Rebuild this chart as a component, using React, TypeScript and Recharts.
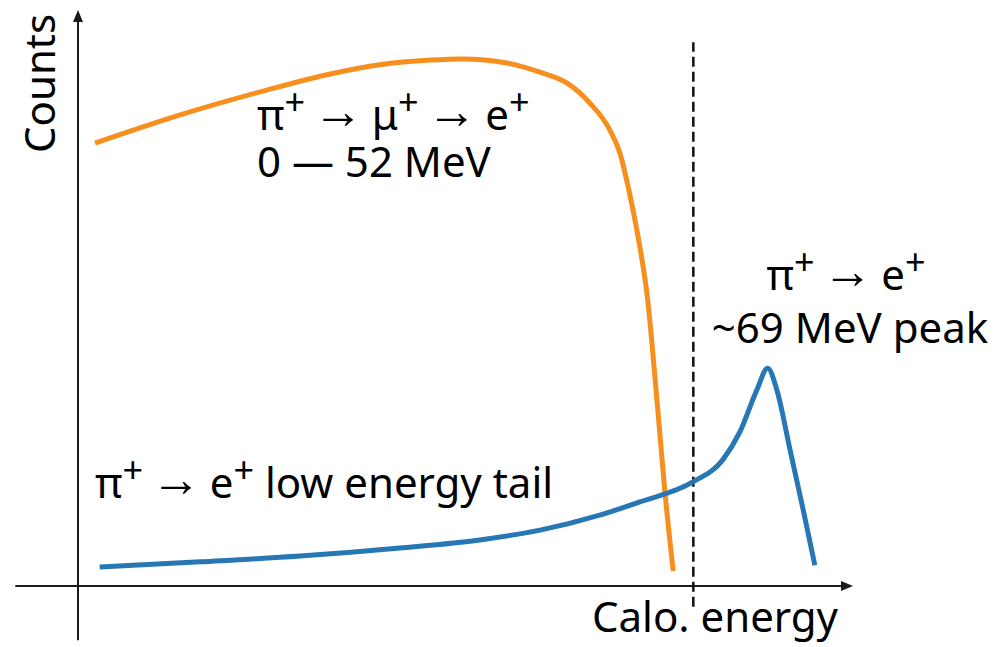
import React from 'react';
import { LineChart, Line, XAxis, YAxis, ReferenceLine, ReferenceDot } from 'recharts';

// schematic calorimeter energy spectrum (arbitrary units, 0-100 on both axes)
const muDecayEnergy = [2.2, 13.2, 24.4, 32.6, 39.0, 45.5, 49.7, 55.4, 59.7, 63.2, 66.1, 68.7, 70.0, 71.3, 72.2, 73.6, 74.8, 75.8, 76.9];
const muDecayCounts = [76.9, 81.8, 86.1, 88.9, 90.5, 91.3, 91.5, 90.8, 89.2, 87.3, 83.9, 79.2, 75.2, 67.9, 61.8, 49.7, 32.3, 16.7, 2.6];

const eDecayEnergy = [2.8, 15.8, 28.7, 41.6, 51.9, 59.7, 67.4, 72.6, 79.5, 83.3, 85.5, 87.7, 89.1, 90.3, 92.0, 93.7, 95.2];
const eDecayCounts = [3.3, 4.2, 5.2, 6.6, 8.0, 9.7, 12.3, 14.6, 18.1, 21.9, 26.7, 34.0, 37.8, 34.0, 23.6, 13.2, 3.6];

const cutEnergy = 79.5;

const ORANGE = '#F78F1E';
const BLUE = '#2777B4';
const AXIS = '#1a1a1a';
const FONT = "'Noto Sans', 'Open Sans', sans-serif";

const muData = muDecayEnergy.map((x, i) => ({ x, y: muDecayCounts[i] }));
const eData = eDecayEnergy.map((x, i) => ({ x, y: eDecayCounts[i] }));

const ArrowRight = (props: any) => {
  const { cx, cy } = props;
  return <polygon points={`${cx + 1},${cy} ${cx - 11},${cy - 5} ${cx - 11},${cy + 5}`} fill={AXIS} />;
};

const ArrowUp = (props: any) => {
  const { cx, cy } = props;
  return <polygon points={`${cx},${cy} ${cx - 5},${cy + 12} ${cx + 5},${cy + 12}`} fill={AXIS} />;
};

// text pieces: [text, baseline offset, font size]
type Part = [string, number, number?];
const SUP: Part = ['+', -15, 36];
const ARR: Part = ['→', -2, 50];
const SP: Part = [' ', 0, 32];

const Rich = ({ x, y, anchor, parts }: { x: number; y: number; anchor?: string; parts: Part[] }) => {
  let prev = 0;
  return (
    <text x={x} y={y} textAnchor={anchor || 'start'} style={{ whiteSpace: 'pre' }}>
      {parts.map(([t, off, size], i) => {
        const dy = off - prev;
        prev = off;
        return (
          <tspan key={i} dy={dy} fontSize={size || 42}>
            {t}
          </tspan>
        );
      })}
    </text>
  );
};

export default function App() {
  return (
    <div style={{ position: 'absolute', left: 0, top: 0, width: 1007, height: 647, background: '#fff' }}>
      <LineChart width={1007} height={647} margin={{ top: 10, right: 155, bottom: 61, left: 78 }}>
        <XAxis type="number" dataKey="x" domain={[0, 100]} allowDataOverflow hide />
        <YAxis type="number" dataKey="y" domain={[0, 100]} allowDataOverflow hide />
        <ReferenceLine segment={[{ x: -8.1, y: 0 }, { x: 99, y: 0 }]} stroke={AXIS} strokeWidth={2} ifOverflow="visible" />
        <ReferenceLine segment={[{ x: 0, y: -9.4 }, { x: 0, y: 98 }]} stroke={AXIS} strokeWidth={2} ifOverflow="visible" />
        <ReferenceDot x={100} y={0} r={1} ifOverflow="visible" shape={ArrowRight} />
        <ReferenceDot x={0} y={100} r={1} ifOverflow="visible" shape={ArrowUp} />
        <ReferenceLine
          segment={[{ x: cutEnergy, y: -3.6 }, { x: cutEnergy, y: 94.4 }]}
          stroke="#111"
          strokeWidth={2.5}
          strokeDasharray="10 5"
          ifOverflow="visible"
        />
        <Line data={muData} dataKey="y" type="monotone" stroke={ORANGE} strokeWidth={5} dot={false} isAnimationActive={false} />
        <Line data={eData} dataKey="y" type="monotone" stroke={BLUE} strokeWidth={5} dot={false} isAnimationActive={false} />
      </LineChart>
      <svg width={1007} height={647} style={{ position: 'absolute', left: 0, top: 0, pointerEvents: 'none' }}>
        <g fontFamily={FONT} fontSize={42} fill="#000">
          <Rich x={257} y={130} parts={[['π', 0], SUP, SP, ARR, SP, ['μ', 0], SUP, SP, ARR, SP, ['e', 0], SUP]} />
          <text x={257} y={177}>0 — 52 MeV</text>
          <Rich x={846} y={290} anchor="middle" parts={[['π', 0], SUP, SP, ARR, SP, ['e', 0], SUP]} />
          <text x={850} y={343} textAnchor="middle">~69 MeV peak</text>
          <Rich x={95} y={498} parts={[['π', 0], SUP, SP, ARR, SP, ['e', 0], SUP, [' low energy tail', 0]]} />
          <text x={592} y={632}>Calo. energy</text>
          <text x={55} y={153} transform="rotate(-90 55 153)">Counts</text>
        </g>
      </svg>
    </div>
  );
}
